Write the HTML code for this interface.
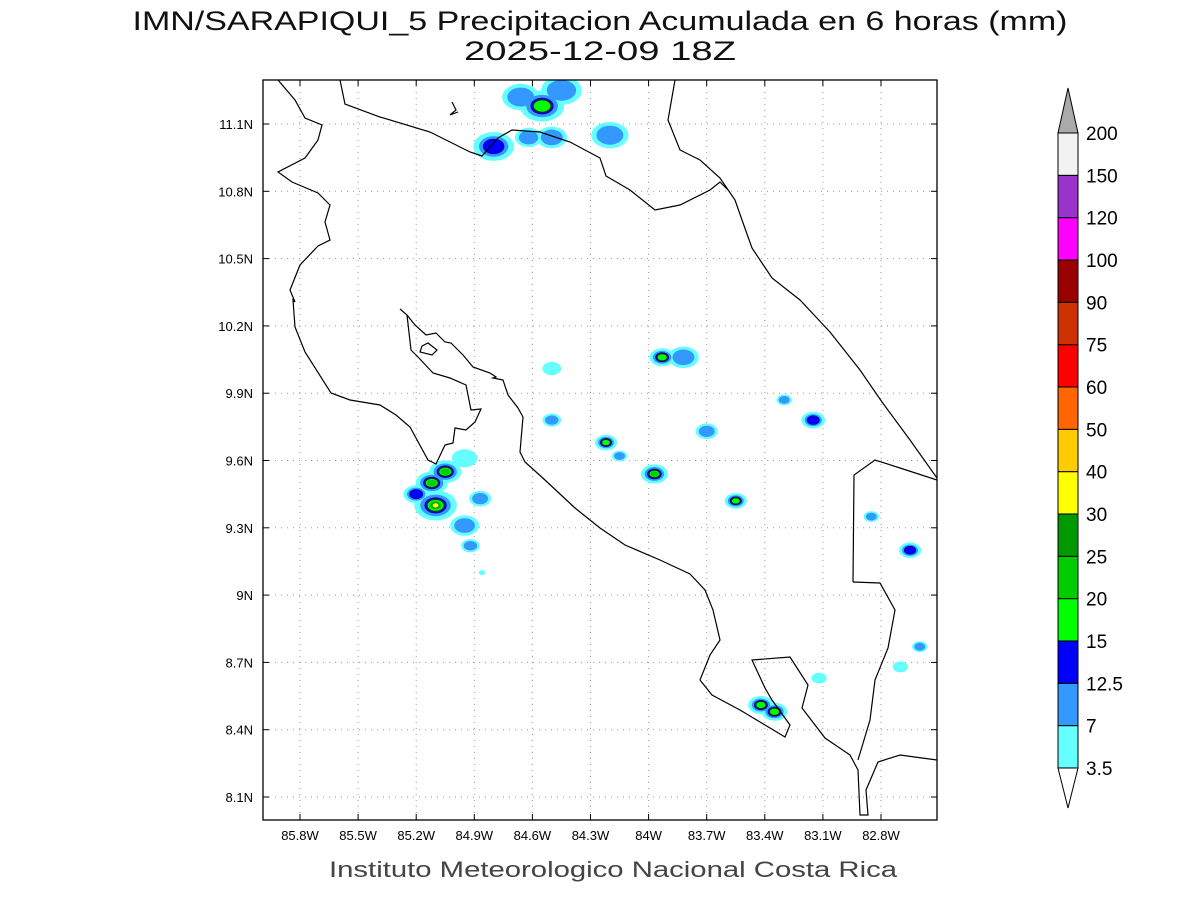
<!DOCTYPE html>
<html><head><meta charset="utf-8"><style>
body{margin:0;background:#fff;}
svg{display:block;font-family:"Liberation Sans",sans-serif;}
</style></head><body>
<svg id="c" width="1200" height="900">
<text x="600" y="30" text-anchor="middle" font-size="27" fill="#111" textLength="935" lengthAdjust="spacingAndGlyphs">IMN/SARAPIQUI_5 Precipitacion Acumulada en 6 horas (mm)</text>
<text x="600" y="60" text-anchor="middle" font-size="27" fill="#111" textLength="272" lengthAdjust="spacingAndGlyphs">2025-12-09 18Z</text>
<text x="613" y="877" text-anchor="middle" font-size="22" textLength="568" lengthAdjust="spacingAndGlyphs" fill="#444">Instituto Meteorologico Nacional Costa Rica</text>
<defs><clipPath id="pc"><rect x="263" y="80" width="674" height="740"/></clipPath></defs>
<g id="grid"></g>
<g id="blobs" clip-path="url(#pc)"></g>
<g id="coast" clip-path="url(#pc)" fill="none" stroke="#000" stroke-width="1.2"></g>
<rect x="263" y="80" width="674" height="740" fill="none" stroke="#000" stroke-width="1.3"/>
<g id="axes"></g>
<g id="cbar"></g>
</svg>
<script>
const lonTicks=[85.8,85.5,85.2,84.9,84.6,84.3,84.0,83.7,83.4,83.1,82.8];
const latTicks=[8.1,8.4,8.7,9.0,9.3,9.6,9.9,10.2,10.5,10.8,11.1];
const latLabels=["8.1N","8.4N","8.7N","9N","9.3N","9.6N","9.9N","10.2N","10.5N","10.8N","11.1N"];
const lonLabels=["85.8W","85.5W","85.2W","84.9W","84.6W","84.3W","84W","83.7W","83.4W","83.1W","82.8W"];
const levels=["3.5","7","12.5","15","20","25","30","40","50","60","75","90","100","120","150","200"];
const levelColors=["#66ffff","#3399ff","#0000ff","#00ff00","#00cc00","#009900","#ffff00","#ffcc00","#ff6600","#ff0000","#cc3300","#990000","#ff00ff","#9933cc","#f2f2f2"];
// precipitation cells: lon (W), lat (N), max level index, size factor
const cellLon=[84.8,84.55,84.66,84.45,84.62,84.5,84.2,84.5,83.93,83.82,84.5,84.22,84.15,83.97,83.55,83.7,83.15,83.3,85.05,85.12,85.1,85.2,84.87,84.95,84.92,84.5,82.65,83.42,83.35,82.7,82.6,82.85,83.12,84.95,84.86];
const cellLat=[11.0,11.18,11.22,11.25,11.04,11.04,11.05,9.78,10.06,10.06,10.01,9.68,9.62,9.54,9.42,9.73,9.78,9.87,9.55,9.5,9.4,9.45,9.43,9.31,9.22,9.78,9.2,8.51,8.48,8.68,8.77,9.35,8.63,9.61,9.1];
const cellLevel=[2,3,1,1,1,1,1,1,3,1,0,3,1,4,3,1,2,1,4,4,6,2,1,1,1,1,2,3,3,0,1,1,0,0,0];
const cellSize=[1.2,1.3,1.1,1.2,0.8,0.9,1.1,0.55,0.75,0.9,0.55,0.65,0.45,0.8,0.65,0.65,0.7,0.45,0.95,0.95,1.25,0.75,0.65,0.85,0.55,0.3,0.65,0.75,0.75,0.45,0.45,0.45,0.45,0.75,0.2];
const X=lon=>300+(85.8-lon)/0.3*58.1;
const Y=lat=>124+(11.1-lat)/0.3*67.3;
const NS="http://www.w3.org/2000/svg";
function mk(t,a,p){const e=document.createElementNS(NS,t);for(const k in a)e.setAttribute(k,a[k]);p.appendChild(e);return e;}
const grid=document.getElementById('grid'),axes=document.getElementById('axes');
lonTicks.forEach((v,i)=>{const x=X(v);
 const l=mk('line',{x1:x,y1:80,x2:x,y2:820,stroke:'#999','stroke-dasharray':'1,5'},grid);
 
 mk('line',{x1:x,y1:820,x2:x,y2:814,stroke:'#000'},axes);
 mk('line',{x1:x,y1:80,x2:x,y2:86,stroke:'#000'},axes);
 const t=mk('text',{x:x,y:840,'text-anchor':'middle','font-size':13},axes);t.textContent=lonLabels[i];
 });
latTicks.forEach((v,i)=>{const y=Y(v);
 const l=mk('line',{x1:263,y1:y,x2:937,y2:y,stroke:'#999','stroke-dasharray':'1,5'},grid);
 
 mk('line',{x1:263,y1:y,x2:269,y2:y,stroke:'#000'},axes);
 mk('line',{x1:937,y1:y,x2:931,y2:y,stroke:'#000'},axes);
 const t=mk('text',{x:253,y:y+5,'text-anchor':'end','font-size':13},axes);t.textContent=latLabels[i];
 });
const blobs=document.getElementById('blobs');
const fac=[1,0.72,0.5,0.4,0.28,0.2,0.14];
for(let k=0;k<7;k++){
 cellLon.forEach((lo,i)=>{if(cellLevel[i]<k)return;const cx=X(lo),cy=Y(cellLat[i]),s=cellSize[i];
  const e=mk('ellipse',{cx:cx,cy:cy,rx:17*s*fac[k],ry:12*s*fac[k],fill:levelColors[k],stroke:k==2?'#0000aa':(k==3?'#003300':'none'),'stroke-width':1},blobs);
  });
}
const coast=document.getElementById('coast');
const paths=[
"M278,80 L295,100 L305,118 L322,125 L318,140 L305,158 L278,172 L292,182 L318,193 L330,205 L325,222 L330,240 L318,246 L300,265 L290,290 L295,302 L293,300 L295,327 L305,352 L331,393 L350,400 L380,405 L396,415 L410,427 L428,460 L436,464 L445,445 L453,443 L455,428 L466,430 L475,422 L481,409 L471,410 L466,385 L450,378 L433,373 L418,357 L411,350 L407,315 L400,309",
"M407,315 L415,325 L426,335 L436,333 L445,342 L451,343 L463,355 L473,367 L490,373 L496,377 L493,378 L503,380 L508,395 L518,408 L523,417 L520,452 L525,462 L545,480 L575,508 L600,528 L625,545 L660,560 L690,574 L705,590 L713,610 L720,640 L710,655 L700,680 L712,695 L740,710 L760,722 L785,737 L790,725 L772,700 L765,688 L752,660 L790,657 L808,685 L802,708 L825,738 L850,755 L858,770 L860,815 L868,815 L866,790 L878,762 L900,755 L937,760",
"M422,346 L428,343 L437,350 L432,355 L420,352 Z",
"M452,102 L456,110 L450,115 L458,112",
"M340,80 L345,104 L380,117 L430,132 L470,152 L482,156 L498,138 L512,130 L540,132 L570,142 L600,158 L606,176 L630,190 L655,210 L680,205 L710,190 L720,182 L728,190",
"M675,80 L668,120 L680,150 L700,160 L720,178 L735,200 L742,220 L752,248 L772,278 L800,300 L830,332 L860,370 L882,402 L910,440 L937,478",
"M853,582 L854,475 L875,460 L900,468 L937,480",
"M853,582 L880,583 L895,610 L888,648 L875,680 L870,720 L858,760"];
paths.forEach(d=>{const p=mk('path',{d:d},coast);});
const cb=document.getElementById('cbar');
const cbX=1058,cbW=20,cbTop=133,step=42.33;
levelColors.forEach((c,i)=>{const y1=cbTop+(levels.length-1-i)*step;
 const r=mk('rect',{x:cbX,y:y1-step,width:cbW,height:step,fill:c,stroke:'#000','stroke-width':1},cb);
 });
levels.forEach((l,i)=>{const y=cbTop+(levels.length-1-i)*step;
 const t=mk('text',{x:1086,y:y+7,'font-size':19},cb);t.textContent=l;
 });
const up=mk('path',{d:`M${cbX},${cbTop} L${cbX+cbW/2},88 L${cbX+cbW},${cbTop} Z`,fill:'#aaa',stroke:'#000'},cb);

const yb=cbTop+(levels.length-1)*step;
const dn=mk('path',{d:`M${cbX},${yb} L${cbX+cbW/2},808 L${cbX+cbW},${yb} Z`,fill:'#fff',stroke:'#000'},cb);

</script>
</body></html>
